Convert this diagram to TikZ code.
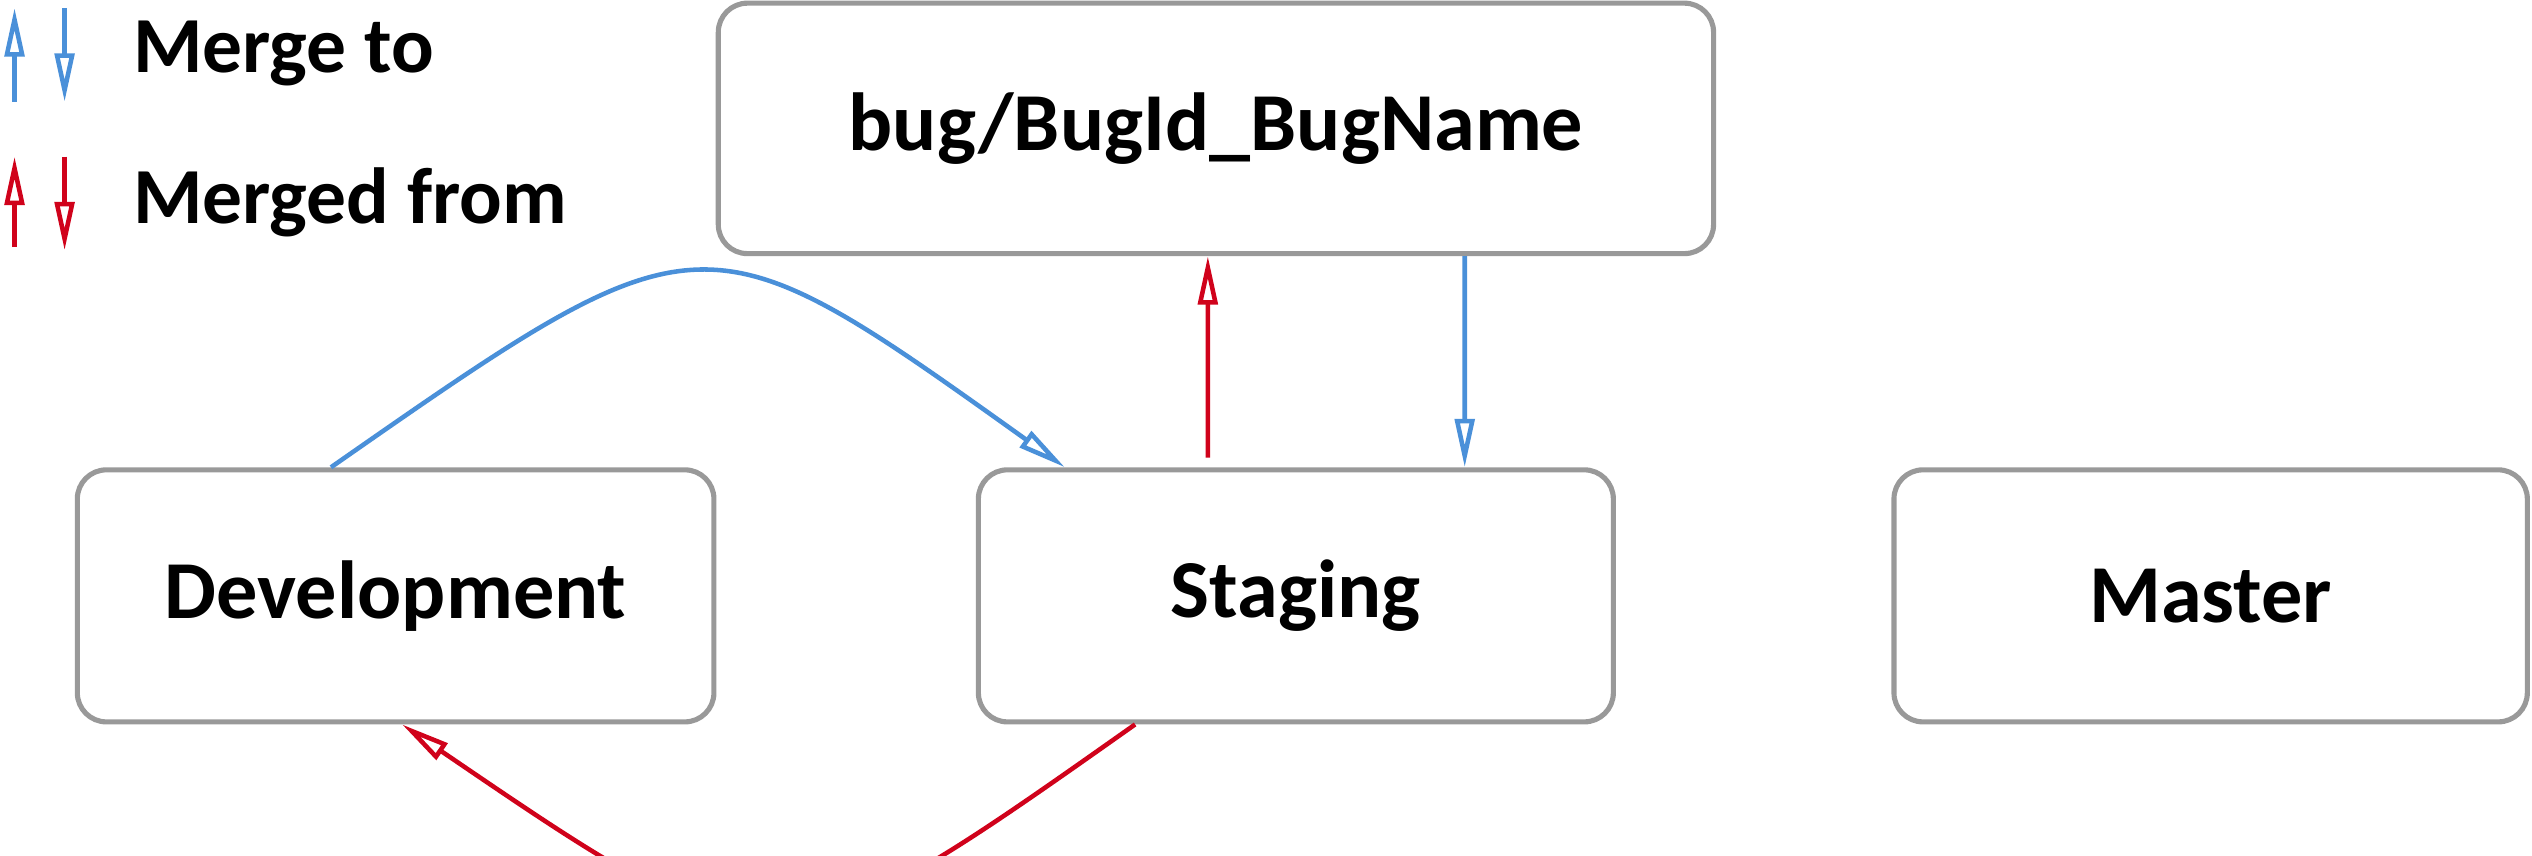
\documentclass[tikz,border=0pt]{standalone}
\usepackage{fontspec}
\setmainfont{Carlito}
\usetikzlibrary{arrows.meta,calc}
\definecolor{mblue}{HTML}{4A90D9}
\definecolor{mred}{HTML}{D0021B}
\definecolor{bgray}{HTML}{999999}
\begin{document}
\begin{tikzpicture}[x=0.01cm,y=-0.01cm,
  box/.style={draw=bgray,line width=0.9pt,rounded corners=0.18cm,font=\bfseries\fontsize{14.5}{16}\selectfont},
  tip/.style={-{Triangle[open,length=0.3cm,width=0.12cm]}},
  blueline/.style={draw=mblue,line width=0.8pt,tip},
  redline/.style={draw=mred,line width=0.8pt,tip},
  lbl/.style={anchor=west,font=\bfseries\fontsize{14}{16}\selectfont}]
\useasboundingbox (0,0) rectangle (1568,530);
\node[box,minimum width=6.16cm,minimum height=1.55cm] (bug) at (753,79.5) {bug/BugId\_BugName};
\node[box,minimum width=3.94cm,minimum height=1.56cm] (dev) at (245,369) {Development};
\node[box,minimum width=3.93cm,minimum height=1.56cm] (stg) at (802.5,369) {Staging};
\node[box,minimum width=3.92cm,minimum height=1.56cm] (mst) at (1369,369) {Master};
% legend
\coordinate (lb1a) at (9,63); \coordinate (lb1b) at (9,5);
\coordinate (lb2a) at (40,5); \coordinate (lb2b) at (40,63);
\coordinate (lr1a) at (9,153); \coordinate (lr1b) at (9,97);
\coordinate (lr2a) at (40,97); \coordinate (lr2b) at (40,155);
\draw[blueline] (lb1a) -- (lb1b);
\draw[blueline] (lb2a) -- (lb2b);
\draw[redline] (lr1a) -- (lr1b);
\draw[redline] (lr2a) -- (lr2b);
\node[lbl] (t1) at (70,33) {Merge to};
\node[lbl] (t2) at (70,125) {Merged from};
% connectors
\draw[blueline] ([xshift=-0.4cm]dev.north) .. controls (435,129) .. ([xshift=-1.43cm]stg.north);
\draw[redline] ([xshift=-0.545cm,yshift=0.06cm]stg.north) -- ([xshift=-0.05cm]bug.south);
\draw[blueline] ([xshift=1.54cm]bug.south) -- ([xshift=1.045cm]stg.north);
\draw[redline] ([xshift=-0.995cm]stg.south) .. controls (480,606) .. ([xshift=0.04cm]dev.south);
\end{tikzpicture}
\end{document}
